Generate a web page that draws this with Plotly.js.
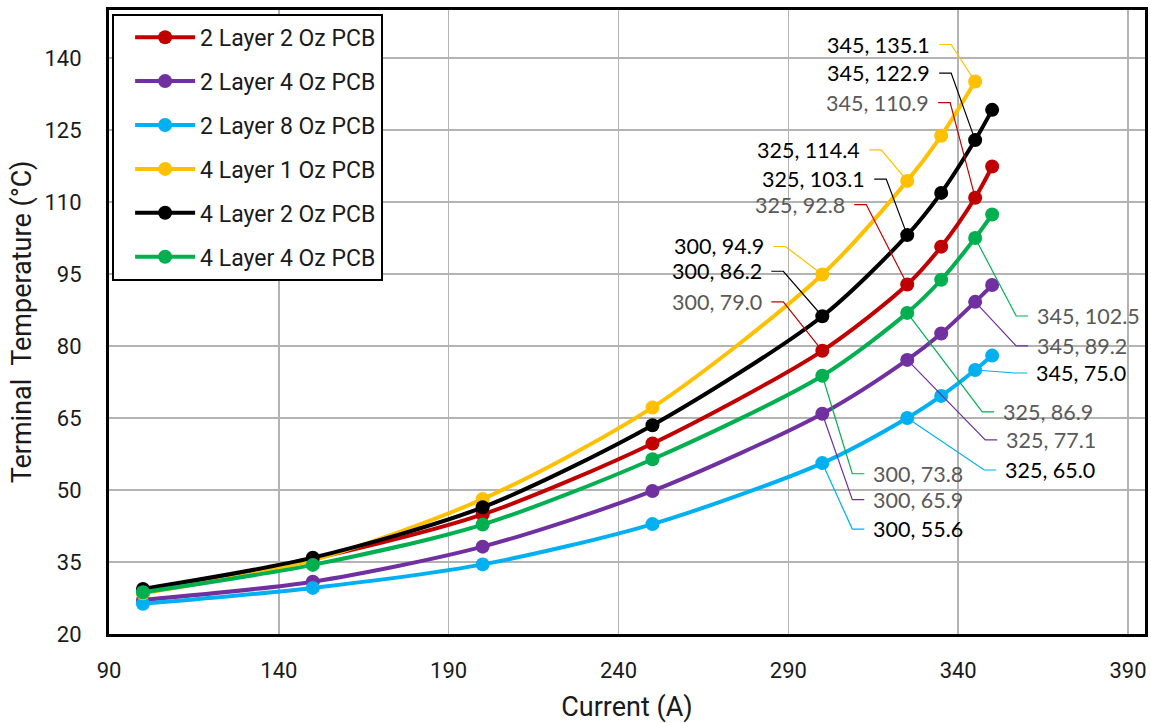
<!DOCTYPE html>
<html>
<head>
<meta charset="utf-8">
<script src="https://cdn.plot.ly/plotly-3.0.1.min.js"></script>
<style>html,body{margin:0;padding:0;background:#fff;}#chart{width:1151px;height:723px;}</style>
</head>
<body>
<div id="chart"></div>
<script>
// ---- data ----
const current = [100, 150, 200, 250, 300, 325, 335, 345, 350];
const currentYellow = [100, 150, 200, 250, 300, 325, 335, 345];

const seriesNames = ["2 Layer 2 Oz PCB", "2 Layer 4 Oz PCB", "2 Layer 8 Oz PCB",
                     "4 Layer 1 Oz PCB", "4 Layer 2 Oz PCB", "4 Layer 4 Oz PCB"];

const twoLayer2oz = [28.6, 35.6, 44.9, 59.7, 79.0, 92.8, 100.7, 110.9, 117.4];
const twoLayer4oz = [27.1, 30.9, 38.2, 49.8, 65.9, 77.1, 82.6, 89.2, 92.7];
const twoLayer8oz = [26.3, 29.6, 34.5, 42.9, 55.6, 65.0, 69.6, 75.0, 78.0];
const fourLayer1oz = [28.5, 35.4, 48.1, 67.2, 94.9, 114.4, 123.8, 135.1];
const fourLayer2oz = [29.4, 35.9, 46.4, 63.5, 86.2, 103.1, 111.9, 122.9, 129.2];
const fourLayer4oz = [28.7, 34.4, 42.8, 56.4, 73.8, 86.9, 93.8, 102.5, 107.4];

const labeledCurrents = [300, 325, 345];

// ---- styles ----
const colors = ["#C00000", "#7030A0", "#00B0F0", "#FFC000", "#000000", "#00B050"];
const labelColors = ["#595959", "#595959", "#000000", "#000000", "#000000", "#595959"];
// leader line pixel offsets (elbow relative to point) and label side
const leaderOffsets = [
  {side: "left",  off: [[-39, -49], [-41, -80], [-25, -95]]},
  {side: "right", off: [[30, 86], [78, 80], [41, 44]]},
  {side: "right", off: [[30, 66], [77, 52], [40, 3]]},
  {side: "left",  off: [[-37, -28], [-26, -31], [-24, -37]]},
  {side: "left",  off: [[-39, -45], [-21, -56], [-24, -67]]},
  {side: "right", off: [[30, 98], [75, 99], [41, 78]]}
];

const xs = [current, current, current, currentYellow, current, current];
const ys = [twoLayer2oz, twoLayer4oz, twoLayer8oz, fourLayer1oz, fourLayer2oz, fourLayer4oz];

const margin = {l: 109, r: 6, t: 10, b: 89};
const xRange = [90, 395];
const yRange = [20, 150];
const W = 1151, H = 723;
const pxX = (W - margin.l - margin.r) / (xRange[1] - xRange[0]);
const pxY = (H - margin.t - margin.b) / (yRange[1] - yRange[0]);

const traces = seriesNames.map((name, i) => ({
  type: "scatter",
  mode: "lines+markers",
  name: name,
  legendgroup: "g" + i,
  x: xs[i],
  y: ys[i],
  line: {color: colors[i], width: 4, shape: "spline", smoothing: 0.8},
  marker: {color: colors[i], size: 14},
  hoverinfo: "x+y"
}));

const shapes = [];
const annotations = [];
const hLen = 12, gap = 8;
seriesNames.forEach((name, i) => {
  const spec = leaderOffsets[i];
  labeledCurrents.forEach((c, k) => {
    const idx = xs[i].indexOf(c);
    const x = xs[i][idx], y = ys[i][idx];
    const [dx, dy] = spec.off[k];
    const sign = spec.side === "left" ? -1 : 1;
    const ex = x + dx / pxX, ey = y - dy / pxY;
    const hx = x + (dx + sign * hLen) / pxX;
    shapes.push({
      type: "path", xref: "x", yref: "y",
      path: `M ${x},${y} L ${ex},${ey} L ${hx},${ey}`,
      line: {color: colors[i], width: 1.2}
    });
    annotations.push({
      x: x, y: y, xref: "x", yref: "y",
      text: `${c}, ${y.toFixed(1)}`,
      showarrow: false,
      xanchor: spec.side === "left" ? "right" : "left",
      yanchor: "middle",
      xshift: dx + sign * (hLen + gap),
      yshift: -dy,
      borderpad: 0,
      font: {family: "Lato, 'Open Sans', sans-serif", size: 21.5, color: labelColors[i]}
    });
  });
});

const layout = {
  width: W, height: H,
  margin: margin,
  paper_bgcolor: "#ffffff",
  plot_bgcolor: "#ffffff",
  font: {family: "Roboto, sans-serif", color: "#1a1a1a"},
  showlegend: true,
  legend: {
    x: 0.003, y: 0.994, xanchor: "left", yanchor: "top",
    bgcolor: "#ffffff", bordercolor: "#000000", borderwidth: 2,
    font: {family: "Roboto, sans-serif", size: 23, color: "#1a1a1a"},
    tracegroupgap: 11,
    traceorder: "grouped",
    itemwidth: 60,
    indentation: 16
  },
  xaxis: {
    range: xRange, tick0: 90, dtick: 50,
    showgrid: true, gridcolor: "#b3b3b3", gridwidth: 1.5,
    zeroline: false,
    showline: true, linecolor: "#000000", linewidth: 3, mirror: true,
    ticks: "", ticklabelstandoff: 15,
    tickfont: {family: "Roboto, sans-serif", size: 22, color: "#1a1a1a"},
    title: {text: "Current (A)", font: {family: "Roboto, sans-serif", size: 27, color: "#1a1a1a"}, standoff: 17}
  },
  yaxis: {
    range: yRange, tick0: 20, dtick: 15,
    showgrid: true, gridcolor: "#b3b3b3", gridwidth: 1.5,
    zeroline: false,
    showline: true, linecolor: "#000000", linewidth: 3, mirror: true,
    ticks: "", ticklabelstandoff: 20,
    tickfont: {family: "Roboto, sans-serif", size: 22, color: "#1a1a1a"},
    title: {text: "Terminal\u00a0 Temperature (°C)", font: {family: "Roboto, sans-serif", size: 27, color: "#1a1a1a"}, standoff: 6}
  },
  shapes: shapes,
  annotations: annotations
};

Plotly.newPlot("chart", traces, layout, {displayModeBar: false, staticPlot: true});
</script>
</body>
</html>
